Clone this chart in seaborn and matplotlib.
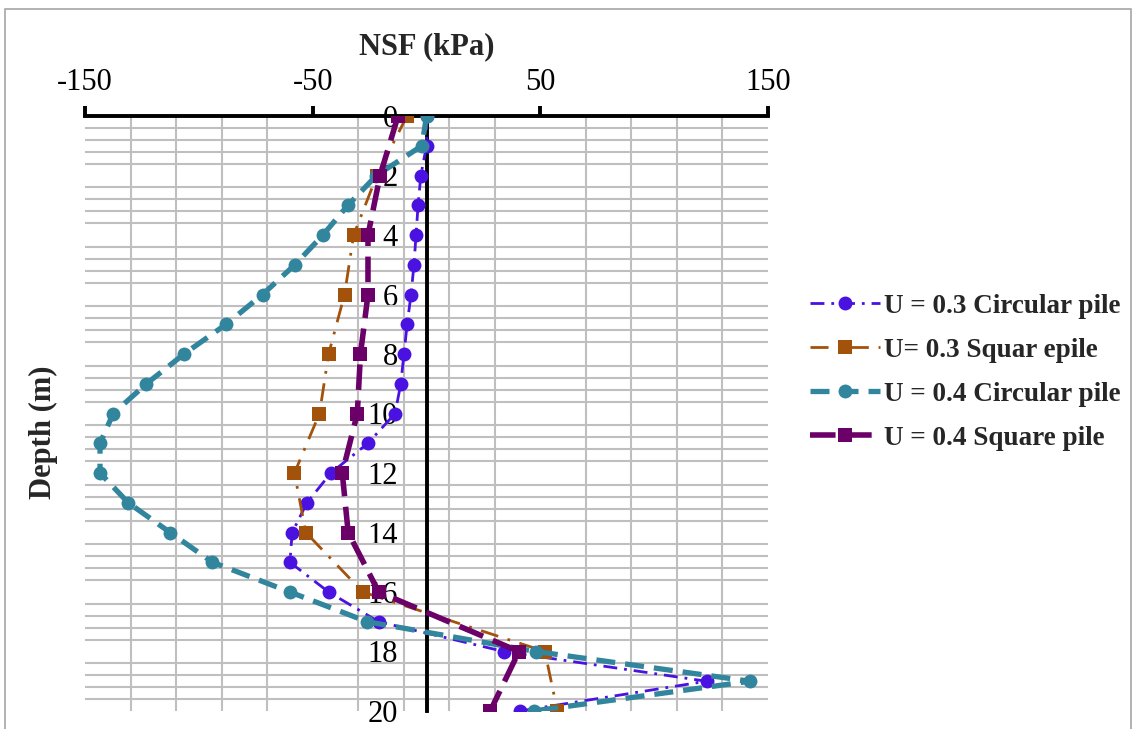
import numpy as np
import seaborn as sns
import matplotlib.pyplot as plt
from matplotlib.patches import Rectangle

# Profundidades (m)
depth_1m = list(range(0, 21))
depth_2m = list(range(0, 21, 2))

# NSF (kPa)
nsf_u03_circular = [0, 0, -2.5, -3.7, -4.6, -5.5, -6.8, -8.5, -9.9, -11.3, -13.8,
                    -25.7, -42, -52.5, -59, -60, -43, -21, 34, 123, 41]
nsf_u03_square = [-8.6, -21.8, -32, -36, -43, -47, -58, -53, -28, 52, 57.5]
nsf_u04_circular = [0, -2, -22, -34.5, -45.5, -57.8, -72, -88, -106.5, -123, -137.6,
                    -143.4, -143.4, -131, -112.6, -94, -60, -26, 48, 142, 47]
nsf_u04_square = [-12.5, -20.4, -25.7, -25.7, -29, -30.4, -37, -34.4, -21, 40.6, 28]

labels = ["U = 0.3 Circular pile", "U= 0.3 Squar epile",
          "U = 0.4 Circular pile", "U = 0.4 Square pile"]
x_ticks = [-150, -50, 50, 150]
y_ticks = list(range(0, 21, 2))

sns.set_theme(style="white")
plt.rcParams['font.family'] = ['Liberation Serif', 'DejaVu Serif']
plt.rcParams['axes.unicode_minus'] = False

fig = plt.figure(figsize=(11.34, 7.29), dpi=100)
ax = fig.add_axes([85 / 1134, 1 - 711 / 729, (768 - 85) / 1134, (711 - 116) / 729])

# linhas de grade
ax.set_xticks(np.arange(-150, 151, 20), minor=True)
ax.set_yticks(np.arange(0, 20.01, 0.4), minor=True)
ax.grid(which='minor', color='#BFBFBF', linewidth=1.5)
ax.grid(which='major', visible=False)
ax.set_axisbelow(True)

series = [
    (nsf_u03_circular, depth_1m, '#4A12E0', 'o', 10, 2.0, (0, (5, 2.5, 1, 2.5))),
    (nsf_u03_square, depth_2m, '#A3520C', 's', 10, 2.0, (0, (6.5, 3.5, 1, 3.5))),
    (nsf_u04_circular, depth_1m, '#31859C', 'o', 10, 3.8, (0, (3.6, 1.9))),
    (nsf_u04_square, depth_2m, '#6A0068', 's', 10, 4.0, (0, (4.6, 1.9))),
]
for (xs, ys, cor, mk, ms, lw, ls), lab in zip(series, labels):
    sns.lineplot(x=xs, y=ys, sort=False, estimator=None, ax=ax, color=cor,
                 marker=mk, markersize=ms, markeredgewidth=0, linewidth=lw,
                 linestyle=ls, label=lab)

ax.set_xlim(-150, 150)
ax.set_ylim(20, 0)

# eixo x no topo
ax.xaxis.tick_top()
ax.xaxis.set_label_position('top')
ax.set_xticks(x_ticks)
ax.set_xticklabels([str(v) for v in x_ticks])
ax.set_xlabel("NSF (kPa)", fontsize=22, fontweight='bold', labelpad=10)

# eixo y sobre x = 0
ax.spines['left'].set_position(('data', 0))
ax.set_yticks(y_ticks)
ax.set_yticklabels([str(v) for v in y_ticks])
ax.set_ylabel("Depth (m)", fontsize=22, fontweight='bold')
ax.yaxis.set_label_coords(-0.040, 0.469)

for s in ['right', 'bottom']:
    ax.spines[s].set_visible(False)
for s in ['top', 'left']:
    ax.spines[s].set_linewidth(2.8)
    ax.spines[s].set_color('black')
    ax.spines[s].set_zorder(1.5)

ax.tick_params(axis='x', which='major', direction='out', length=7, width=2.8,
               labelsize=22, pad=6.5, colors='black')
ax.tick_params(axis='y', which='major', direction='out', length=6.5, width=2.8,
               labelsize=22, pad=14, colors='black')
ax.tick_params(which='minor', length=0)

leg = ax.legend(loc='upper left', bbox_to_anchor=(799 / 1134, 1 - 283 / 729),
                bbox_transform=fig.transFigure, frameon=False, borderaxespad=0,
                prop={'family': 'Liberation Serif', 'weight': 'bold', 'size': 19.5},
                handlelength=2.6, handletextpad=0.15, labelspacing=0.7)

fig.patches.append(Rectangle((0.004, -0.01), 0.993, 0.998, transform=fig.transFigure,
                             fill=False, edgecolor='#A6A6A6', linewidth=1.2))

plt.savefig("out.png", dpi=100)
